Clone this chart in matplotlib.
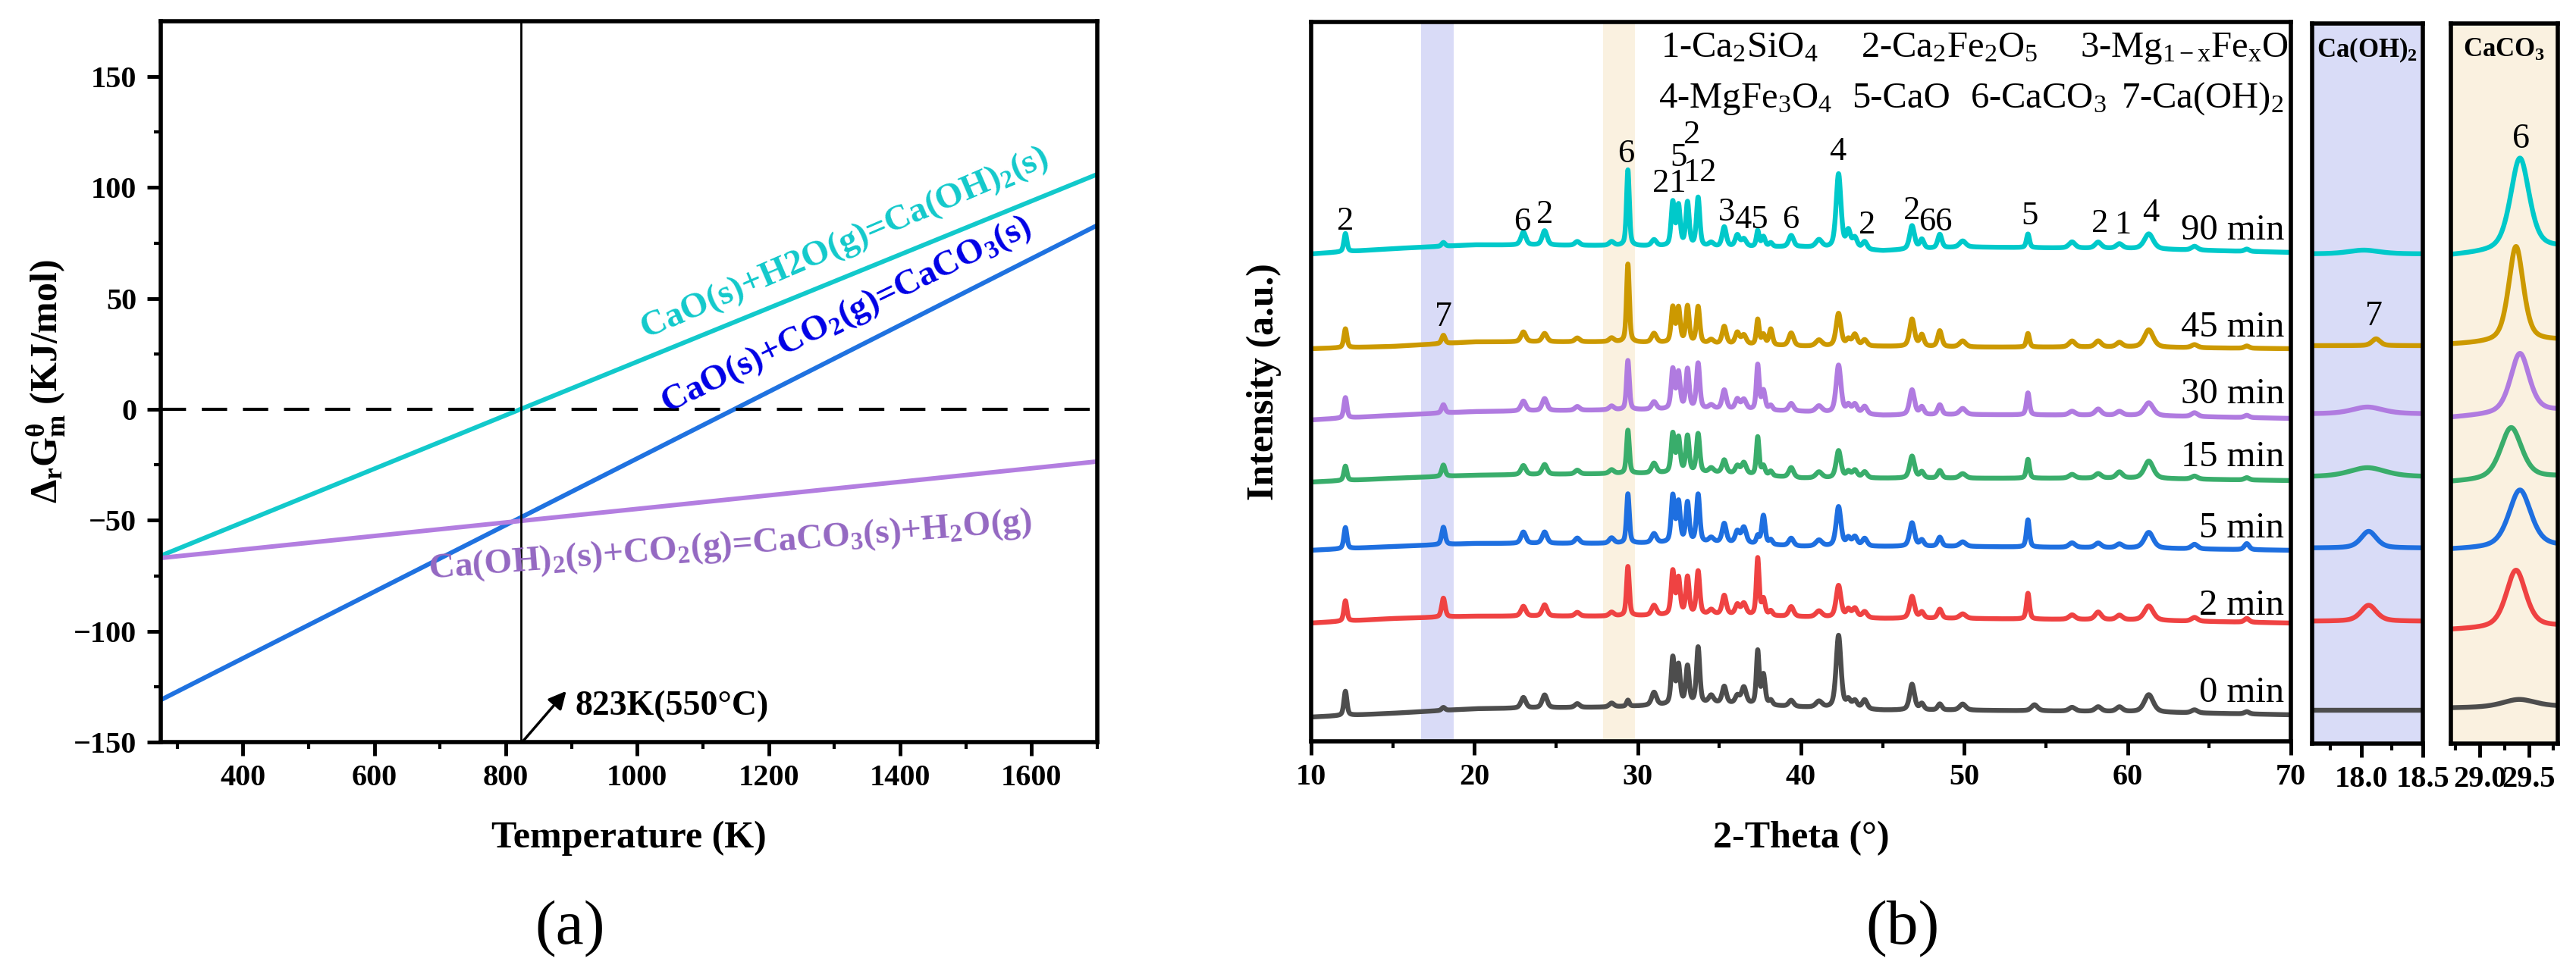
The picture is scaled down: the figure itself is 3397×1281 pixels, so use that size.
import numpy as np
import matplotlib
matplotlib.use("Agg")
import matplotlib.pyplot as plt
from matplotlib.ticker import MultipleLocator, FixedLocator, FormatStrFormatter

plt.rcParams['font.family'] = ['Liberation Serif', 'DejaVu Serif']
plt.rcParams['mathtext.fontset'] = 'custom'
plt.rcParams['mathtext.rm'] = 'Liberation Serif'
plt.rcParams['mathtext.it'] = 'Liberation Serif:italic'
plt.rcParams['mathtext.bf'] = 'Liberation Serif:bold'

# ---------------- (a) Gibbs free energy data ----------------
T_K = [275, 1700]
dG_hydration = [-66, 106]          # CaO(s)+H2O(g)=Ca(OH)2(s)
dG_carbonation = [-131, 83]        # CaO(s)+CO2(g)=CaCO3(s)
dG_hydroxide_carb = [-67, -23.5]   # Ca(OH)2(s)+CO2(g)=CaCO3(s)+H2O(g)
T_mark = 823

# ---------------- (b) XRD data (peak table) ----------------
samples = ['90 min', '45 min', '30 min', '15 min', '5 min', '2 min', '0 min']
colors = ['#00C9CA', '#CC9900', '#B07BE0', '#39AD6B', '#1E6FE0', '#EF4242', '#4D4D4D']

peak_2theta = [12.1, 18.1, 23.0, 24.3, 26.3, 28.4, 29.4, 31.0, 32.15, 32.5, 33.05, 33.7,
               34.5, 35.3, 36.1, 36.5, 37.35, 37.7, 38.15, 39.4, 41.1, 42.3, 42.9, 43.3,
               43.9, 46.8, 47.4, 48.5, 49.9, 53.9, 54.3, 56.6, 58.2, 59.5, 61.3, 64.1, 67.3]
peak_fwhm = [0.22, 0.25, 0.35, 0.35, 0.35, 0.35, 0.2, 0.35, 0.24, 0.24, 0.24, 0.24,
             0.35, 0.3, 0.3, 0.35, 0.2, 0.25, 0.25, 0.35, 0.45, 0.35, 0.3, 0.35,
             0.35, 0.35, 0.3, 0.3, 0.45, 0.22, 0.45, 0.45, 0.45, 0.45, 0.65, 0.45, 0.35]
h_90 = [24, 5, 17, 19, 5, 5, 100, 8, 57, 52, 57, 64, 5, 26, 15, 10, 21, 13, 5, 15, 10, 98, 22, 14,
        10, 31, 12, 18, 8, 18, 0, 8, 8, 6, 20, 5, 3]
h_45 = [25, 11, 13, 11, 5, 5, 103, 12, 46, 45, 48, 48, 5, 23, 15, 12, 33, 13, 21, 17, 8, 43, 8, 15,
        8, 36, 15, 21, 8, 18, 0, 8, 8, 6, 23, 4, 3]
h_30 = [27, 11, 13, 16, 5, 5, 65, 10, 52, 47, 52, 60, 5, 25, 13, 13, 59, 25, 6, 10, 8, 63, 10, 12,
        10, 33, 10, 13, 8, 29, 0, 5, 8, 5, 17, 5, 3]
h_15 = [19, 15, 12, 13, 5, 5, 57, 13, 51, 45, 48, 51, 6, 17, 10, 15, 50, 12, 6, 13, 8, 36, 8, 10,
        8, 29, 8, 10, 6, 25, 0, 5, 6, 8, 23, 4, 3]
h_5 = [28, 23, 15, 15, 7, 7, 65, 12, 61, 52, 52, 63, 6, 25, 15, 21, 10, 38, 6, 10, 8, 52, 10, 12,
       10, 31, 8, 12, 6, 36, 0, 6, 6, 5, 21, 6, 8]
h_2 = [27, 25, 13, 15, 5, 5, 65, 13, 57, 47, 49, 57, 6, 25, 13, 15, 75, 21, 6, 13, 8, 42, 10, 12,
       8, 29, 8, 12, 6, 34, 0, 6, 10, 6, 19, 5, 5]
h_0 = [32, 4, 14, 17, 5, 5, 8, 17, 61, 50, 49, 74, 10, 22, 10, 22, 70, 39, 6, 8, 8, 96, 10, 10,
       12, 34, 8, 8, 8, 0, 8, 5, 6, 6, 23, 4, 3]

bg_2theta = [10, 15, 20, 28, 35, 40, 45, 50, 60, 70]
bg_90 = [643, 650, 655, 654, 652, 652, 647, 652, 650, 645]
bg_45 = [518, 521, 527, 527, 524, 521, 521, 520, 520, 518]
bg_30 = [424, 430, 435, 437, 438, 435, 430, 431, 430, 426]
bg_15 = [342, 347, 351, 353, 354, 347, 347, 347, 347, 344]
bg_5 = [252, 257, 261, 261, 262, 257, 257, 257, 255, 252]
bg_2 = [156, 162, 165, 165, 167, 164, 162, 162, 160, 156]
bg_0 = [32, 37, 43, 45, 50, 45, 41, 41, 39, 35]

heights = [h_90, h_45, h_30, h_15, h_5, h_2, h_0]
baselines = [bg_90, bg_45, bg_30, bg_15, bg_5, bg_2, bg_0]

time_label_y = [662, 534, 446, 363, 269, 167, 52]

peak_labels = [('2', 12.1, 686), ('6', 22.9, 685), ('2', 24.3, 695), ('6', 29.3, 775),
               ('21', 31.95, 736), ('5', 32.5, 770), ('2', 33.3, 800), ('12', 33.8, 750),
               ('3', 35.44, 698), ('45', 36.95, 688), ('6', 39.38, 688), ('4', 42.25, 778),
               ('2', 44.03, 681), ('2', 46.8, 700), ('66', 48.25, 685), ('5', 54.0, 693),
               ('2', 58.3, 683), ('1', 59.7, 681), ('4', 61.4, 697)]

phase_legend = [(r'1-Ca$_2$SiO$_4$', 31.41, 903), (r'2-Ca$_2$Fe$_2$O$_5$', 43.67, 903),
                (r'3-Mg$_{\mathrm{1-x}}$Fe$_\mathrm{x}$O', 57.1, 903),
                (r'4-MgFe$_3$O$_4$', 31.27, 836), ('5-CaO', 43.12, 836),
                (r'6-CaCO$_3$', 50.36, 836), (r'7-Ca(OH)$_2$', 59.6, 836)]

caoh2_band = [16.73, 18.73]
caco3_band = [27.88, 29.83]

# Inset Ca(OH)2 (zoom 17.6 - 18.5)
caoh2_pos = [18.02, 18.12, 18.05, 18.05, 18.06, 18.06, 18.05]
caoh2_height = [5, 9, 9, 12, 22, 21, 0]
caoh2_fwhm = [0.3, 0.08, 0.3, 0.35, 0.15, 0.15, 0.3]
caoh2_base = [646, 525, 435, 352, 258, 161.5, 44.4]

# Inset CaCO3 (zoom 28.7 - 29.8)
caco3_pos = [29.41, 29.37, 29.41, 29.32, 29.41, 29.37, 29.40]
caco3_height = [122, 126, 79, 68, 76, 76, 10]
caco3_fwhm = [0.23, 0.18, 0.23, 0.26, 0.27, 0.24, 0.4]
caco3_base_left = [644, 526.5, 430, 345, 256, 150, 47]
caco3_base_right = [654, 532, 439, 352, 260, 154.6, 49]


def pv(x, c, w, h):
    g = np.exp(-4 * np.log(2) * ((x - c) / w) ** 2)
    lor = 1.0 / (1 + 4 * ((x - c) / w) ** 2)
    return h * (0.5 * g + 0.5 * lor)


W, H = 3397, 1281
fig = plt.figure(figsize=(W / 100, H / 100), dpi=100)

SPW = 4
LW_B = 4.6
tick_kw = dict(direction='out', width=3.5, length=13, labelsize=29, pad=8)
minor_kw = dict(direction='out', width=3, length=6.5)

# ================= (a) =================
ax = fig.add_axes([212 / W, 1 - 979 / H, (1447 - 212) / W, (979 - 28) / H])
ax.plot(T_K, dG_hydration, color='#12C9CB', lw=4.3, solid_capstyle='butt')
ax.plot(T_K, dG_carbonation, color='#1F72E0', lw=4.3, solid_capstyle='butt')
ax.plot(T_K, dG_hydroxide_carb, color='#B37EE0', lw=4.3, solid_capstyle='butt')
ax.axhline(0, color='black', lw=3, linestyle=(0, (8, 5)))
ax.axvline(T_mark, color='black', lw=2)
ax.set_xlim(275, 1700)
ax.set_ylim(-150, 175)
ax.xaxis.set_major_locator(FixedLocator([400, 600, 800, 1000, 1200, 1400, 1600]))
ax.xaxis.set_minor_locator(FixedLocator(np.arange(300, 1701, 200)))
ax.yaxis.set_major_locator(FixedLocator(np.arange(-150, 151, 50)))
ax.yaxis.set_minor_locator(FixedLocator(np.arange(-125, 150, 50)))
ax.tick_params(which='major', **tick_kw)
ax.tick_params(which='minor', **minor_kw)
ax.tick_params(axis='y', which='major', pad=10)
for lab in ax.get_xticklabels() + ax.get_yticklabels():
    lab.set_fontweight('bold')
for s in ax.spines.values():
    s.set_linewidth(SPW)
ax.set_xlabel('Temperature (K)', fontsize=36, fontweight='bold')
ax.xaxis.label.set_va('center')
ax.xaxis.set_label_coords(0.5, -0.1335)
ax.set_ylabel(r'$\mathbf{\Delta_r G_m^{\theta}}$ (KJ/mol)', fontsize=36, fontweight='bold')
ax.yaxis.label.set_va('center')
ax.yaxis.set_label_coords(-0.1223, 0.5)

ax.text(1320, 71, r'CaO(s)+H2O(g)=Ca(OH)$_\mathbf{2}$(s)', color='#12C9CB', fontsize=34,
        fontweight='bold', rotation=23.3, rotation_mode='anchor', ha='center', va='baseline')
ax.text(1324, 39, r'CaO(s)+CO$_\mathbf{2}$(g)=CaCO$_\mathbf{3}$(s)', color='#0000E6', fontsize=34,
        fontweight='bold', rotation=26.2, rotation_mode='anchor', ha='center', va='baseline')
ax.text(1142, -65.5, r'Ca(OH)$_\mathbf{2}$(s)+CO$_\mathbf{2}$(g)=CaCO$_\mathbf{3}$(s)+H$_\mathbf{2}$O(g)',
        color='#9468C2', fontsize=34, fontweight='bold', rotation=4.5, rotation_mode='anchor',
        ha='center', va='baseline')
ax.annotate('', xy=(892, -127), xytext=(825, -150), annotation_clip=False,
            arrowprops=dict(arrowstyle='-|>', lw=2.5, color='black', mutation_scale=35,
                            shrinkA=0, shrinkB=0))
ax.text(905, -134, '823K(550°C)', fontsize=33, fontweight='bold', ha='left', va='center')

# ================= (b) main =================
bx = fig.add_axes([1729 / W, 1 - 978 / H, (3021 - 1729) / W, (978 - 29) / H])
bx.axvspan(*caoh2_band, color='#D9DBF7', zorder=0, lw=0)
bx.axvspan(*caco3_band, color='#FAF1E0', zorder=0, lw=0)
x = np.linspace(10, 70, 6001)
for name, col, hs, bg, ty in zip(samples, colors, heights, baselines, time_label_y):
    y = np.interp(x, bg_2theta, bg)
    for c, w, h in zip(peak_2theta, peak_fwhm, hs):
        if h > 0:
            y = y + pv(x, c, w, h)
    bx.plot(x, y, color=col, lw=LW_B, zorder=2)
    bx.text(69.6, ty, name, fontsize=35, ha='right', va='baseline', zorder=3)
for s, px, py in peak_labels:
    bx.text(px, py, s, fontsize=32, ha='center', va='center')
bx.text(18.1, 559, '7', fontsize=33, ha='center', va='center')
for s, px, py in phase_legend:
    bx.text(px, py, s, fontsize=35, ha='left', va='baseline')
bx.set_xlim(10, 70)
bx.set_ylim(0, 949)
bx.set_yticks([])
bx.xaxis.set_major_locator(MultipleLocator(10))
bx.xaxis.set_minor_locator(MultipleLocator(5))
bx.tick_params(which='major', **tick_kw)
bx.tick_params(which='minor', **minor_kw)
for lab in bx.get_xticklabels():
    lab.set_fontweight('bold')
for s in bx.spines.values():
    s.set_linewidth(SPW)
bx.set_xlabel('2-Theta (°)', fontsize=36, fontweight='bold')
bx.xaxis.label.set_va('center')
bx.xaxis.set_label_coords(0.5, -0.1349)
bx.set_ylabel('Intensity (a.u.)', fontsize=36, fontweight='bold')
bx.yaxis.label.set_va('center')
bx.yaxis.set_label_coords(-0.048, 0.5)

# ================= (b) insets =================
def make_inset(left, right, xlim, bgcol, title):
    ia = fig.add_axes([left / W, 1 - 981 / H, (right - left) / W, (981 - 31) / H])
    ia.set_facecolor(bgcol)
    ia.set_xlim(*xlim)
    ia.set_ylim(0, 950)
    ia.set_yticks([])
    ia.xaxis.set_major_locator(MultipleLocator(0.5))
    ia.xaxis.set_minor_locator(MultipleLocator(0.25))
    ia.xaxis.set_major_formatter(FormatStrFormatter('%.1f'))
    ia.tick_params(which='major', **tick_kw)
    ia.tick_params(which='minor', **minor_kw)
    for lab in ia.get_xticklabels():
        lab.set_fontweight('bold')
    for s in ia.spines.values():
        s.set_linewidth(SPW)
    ia.text(0.5, 915, title, transform=ia.get_yaxis_transform(), fontsize=25,
            fontweight='bold', ha='center', va='center')
    return ia

i1 = make_inset(3049, 3195, (17.6, 18.5), '#D9DCF7', r'Ca(OH)$_\mathbf{2}$')
x1 = np.linspace(17.6, 18.5, 400)
for col, c, h, w, b in zip(colors, caoh2_pos, caoh2_height, caoh2_fwhm, caoh2_base):
    i1.plot(x1, b + pv(x1, c, w, h), color=col, lw=LW_B)
i1.text(18.1, 563, '7', fontsize=33, ha='center', va='center')

i2 = make_inset(3232, 3373, (28.7, 29.8), '#FAF1E0', r'CaCO$_\mathbf{3}$')
x2 = np.linspace(28.7, 29.8, 400)
for col, c, h, w, bl, br in zip(colors, caco3_pos, caco3_height, caco3_fwhm,
                                caco3_base_left, caco3_base_right):
    i2.plot(x2, np.interp(x2, [28.7, 29.8], [bl, br]) + pv(x2, c, w, h), color=col, lw=LW_B)
i2.text(29.42, 797, '6', fontsize=33, ha='center', va='center')

fig.text(752 / W, 1 - 1226 / H, '(a)', fontsize=60, ha='center', va='center')
fig.text(2509 / W, 1 - 1226 / H, '(b)', fontsize=60, ha='center', va='center')

fig.savefig('out.png', dpi=100)
